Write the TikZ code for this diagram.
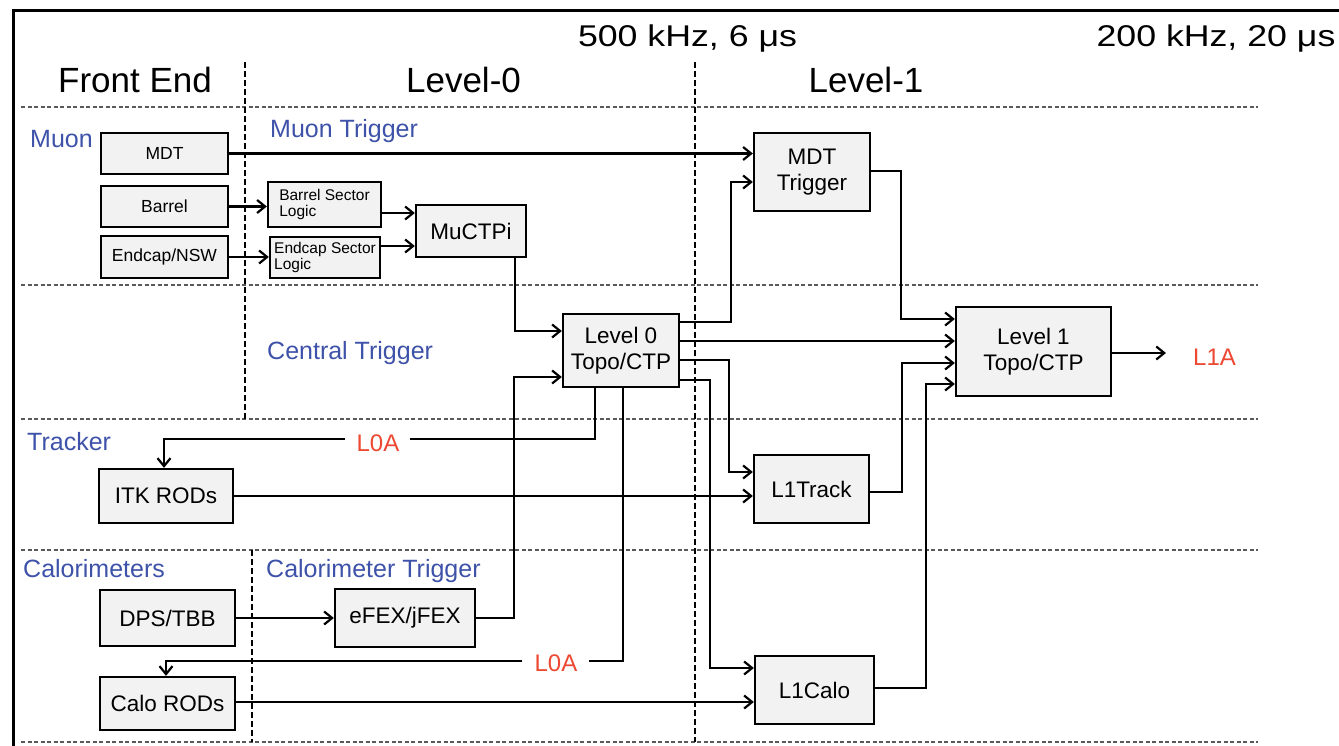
\documentclass[tikz,border=0pt]{standalone}
\usepackage{fontspec}
\setmainfont{Liberation Sans}
\usetikzlibrary{arrows.meta}
\definecolor{boxgray}{HTML}{F2F2F2}
\definecolor{lblblue}{RGB}{61,82,168}
\definecolor{lblred}{RGB}{236,72,50}
\definecolor{dashgray}{RGB}{90,90,90}
\newcommand\fsz[2]{\fontsize{#1}{#2}\selectfont}
\begin{document}
\begin{tikzpicture}[x=1pt,y=-1pt,
  box/.style={draw, line width=2.3pt, fill=boxgray, inner sep=0pt, align=center, font=\fsz{22.5}{26.5}},
  smallbox/.style={box, font=\fsz{17.5}{20}},
  slbox/.style={box, align=left, font=\fsz{15.5}{16.5}},
  conn/.style={line width=2.2pt},
  arr/.style={conn, -{Straight Barb[length=8pt,width=13pt]}},
  hdash/.style={dashgray, line width=1.3pt, dash pattern=on 4pt off 2.5pt},
  vdash/.style={black, line width=1.1pt, dash pattern=on 6pt off 3pt},
  bluelbl/.style={text=lblblue, font=\fsz{25}{30}, inner sep=0pt, anchor=base west},
  redlbl/.style={text=lblred, font=\fsz{24}{28}, inner sep=0pt, anchor=base},
  head/.style={font=\fsz{35}{40}, inner sep=0pt, anchor=base},
  rate/.style={font=\fsz{30}{36}, inner sep=0pt, anchor=base}
]
\useasboundingbox (0,0) rectangle (1339,746);

% frame
\draw[line width=2.5pt] (13.5,770) -- (13.5,10.7) -- (1360,10.7);

% dashed grid
\draw[hdash] (21,107) -- (1258,107);
\draw[hdash] (21,285) -- (1258,285);
\draw[hdash] (21,419) -- (1258,419);
\draw[hdash] (21,550) -- (1258,550);
\draw[hdash] (21,742) -- (1258,742);
\draw[vdash] (245,62) -- (245,419);
\draw[vdash] (695,62) -- (695,742);
\draw[vdash] (252,550) -- (252,742);

% headings
\node[rate] (r0) at (687.5,46.7) {\scalebox{1.19}[1]{500 kHz, 6 μs}};
\node[rate] (r1) at (1216,47) {\scalebox{1.19}[1]{200 kHz, 20 μs}};
\node[head] (hfe) at (135,93) {Front End};
\node[head] (hl0) at (463.5,93) {Level-0};
\node[head] (hl1) at (866,93) {Level-1};

% section labels
\node[bluelbl] (lmuon) at (30,148) {Muon};
\node[bluelbl] (lmuontrig) at (270,138) {Muon Trigger};
\node[bluelbl] (lcentral) at (267,359) {Central Trigger};
\node[bluelbl] (ltracker) at (27,450) {Tracker};
\node[bluelbl] (lcalo) at (23,577) {Calorimeters};
\node[bluelbl] (lcalotrig) at (266,577) {Calorimeter Trigger};

% boxes
\node[smallbox, minimum width=127pt, minimum height=41pt] (mdt) at (164.5,153.5) {MDT};
\node[smallbox, minimum width=127pt, minimum height=41pt] (barrel) at (164.5,206.5) {Barrel};
\node[smallbox, minimum width=127pt, minimum height=42pt] (endcap) at (164.5,257) {Endcap/NSW};
\node[slbox, minimum width=113pt, minimum height=45pt] (bsl) at (324.5,204.5) {Barrel Sector\\Logic};
\node[slbox, minimum width=110pt, minimum height=41pt] (esl) at (325,257.5) {Endcap Sector\\Logic};
\node[box, minimum width=110pt, minimum height=52pt] (muctpi) at (471,231) {MuCTPi};
\node[box, minimum width=116pt, minimum height=73pt] (l0) at (621,350.5) {Level 0\\Topo/CTP};
\node[box, minimum width=116pt, minimum height=78pt] (mdttrig) at (812,172) {MDT\\Trigger};
\node[box, minimum width=155pt, minimum height=89pt] (l1) at (1033.5,351.5) {Level 1\\Topo/CTP};
\node[box, minimum width=134pt, minimum height=54pt] (itk) at (166,496) {ITK RODs};
\node[box, minimum width=115pt, minimum height=68pt] (l1track) at (811.5,489) {L1Track};
\node[box, minimum width=135pt, minimum height=56pt] (dps) at (167.5,618) {DPS/TBB};
\node[box, minimum width=140pt, minimum height=58pt] (efex) at (405,618) {eFEX/jFEX};
\node[box, minimum width=135pt, minimum height=53pt] (calo) at (167.5,703.5) {Calo RODs};
\node[box, minimum width=119pt, minimum height=68pt] (l1calo) at (814.5,690) {L1Calo};

% red labels
\node[redlbl] (l0a1) at (378,451) {L0A};
\node[redlbl] (l0a2) at (556,671) {L0A};
\node[redlbl] (l1a) at (1214.5,365) {L1A};

% helper coordinates
\coordinate (x164) at (164,0);
\coordinate (x166) at (166,0);
\coordinate (x514) at (514,0);
\coordinate (x515) at (515,0);
\coordinate (x595) at (595,0);
\coordinate (x623) at (623,0);
\coordinate (x710) at (710,0);
\coordinate (x729) at (729,0);
\coordinate (x731) at (731,0);
\coordinate (x901) at (901,0);
\coordinate (x902) at (902,0);
\coordinate (x926) at (926,0);
\coordinate (y171) at (0,171);
\coordinate (y182) at (0,182);
\coordinate (y213) at (0,213);
\coordinate (y246) at (0,246);
\coordinate (y319) at (0,319);
\coordinate (y322) at (0,322);
\coordinate (y331) at (0,331);
\coordinate (y341) at (0,341);
\coordinate (y353) at (0,353);
\coordinate (y360) at (0,360);
\coordinate (y363) at (0,363);
\coordinate (y377) at (0,377);
\coordinate (y380) at (0,380);
\coordinate (y384) at (0,384);
\coordinate (y439) at (0,439);
\coordinate (y472) at (0,472);
\coordinate (y492) at (0,492);
\coordinate (y661) at (0,661);
\coordinate (y668) at (0,668);
\coordinate (y688) at (0,688);
\coordinate (y702) at (0,702);
\coordinate (l1aend) at (1166,353);

% muon connectors
\draw[arr] (mdt.east) -- (mdt.east -| mdttrig.west);
\draw[arr] (barrel.east) -- (barrel.east -| bsl.west);
\draw[arr] (endcap.east) -- (endcap.east -| esl.west);
\draw[arr] (bsl.east |- y213) -- (muctpi.west |- y213);
\draw[arr] (esl.east |- y246) -- (muctpi.west |- y246);
\draw[arr] (muctpi.south -| x515) |- (l0.west |- y331);

% calorimeter
\draw[arr] (dps.east) -- (efex.west);
\draw[arr] (efex.east) -| (x514 |- y377) -- (l0.west |- y377);

% L0 outputs
\draw[arr] (l0.east |- y322) -| (x731 |- y182) -- (mdttrig.west |- y182);
\draw[arr] (l0.east |- y341) -- (l1.west |- y341);
\draw[arr] (l0.east |- y360) -| (x729 |- y472) -- (l1track.west |- y472);
\draw[arr] (l0.east |- y380) -| (x710 |- y668) -- (l1calo.west |- y668);

% L0A
\draw[conn] (l0.south -| x595) |- ([xshift=10pt]l0a1.east |- y439);
\draw[arr] ([xshift=-11pt]l0a1.west |- y439) -| (itk.north -| x164);
\draw[conn] (l0.south -| x623) |- ([xshift=11pt]l0a2.east |- y661);
\draw[arr] ([xshift=-12pt]l0a2.west |- y661) -| (calo.north -| x166);

% RODs to L1
\draw[arr] (itk.east) -- (itk.east -| l1track.west);
\draw[arr] (calo.east |- y702) -- (l1calo.west |- y702);

% L1 inputs
\draw[arr] (mdttrig.east |- y171) -| (x901 |- y319) -- (l1.west |- y319);
\draw[arr] (l1track.east |- y492) -| (x902 |- y363) -- (l1.west |- y363);
\draw[arr] (l1calo.east |- y688) -| (x926 |- y384) -- (l1.west |- y384);
\draw[arr] (l1.east |- y353) -- (l1aend);
\end{tikzpicture}
\end{document}
